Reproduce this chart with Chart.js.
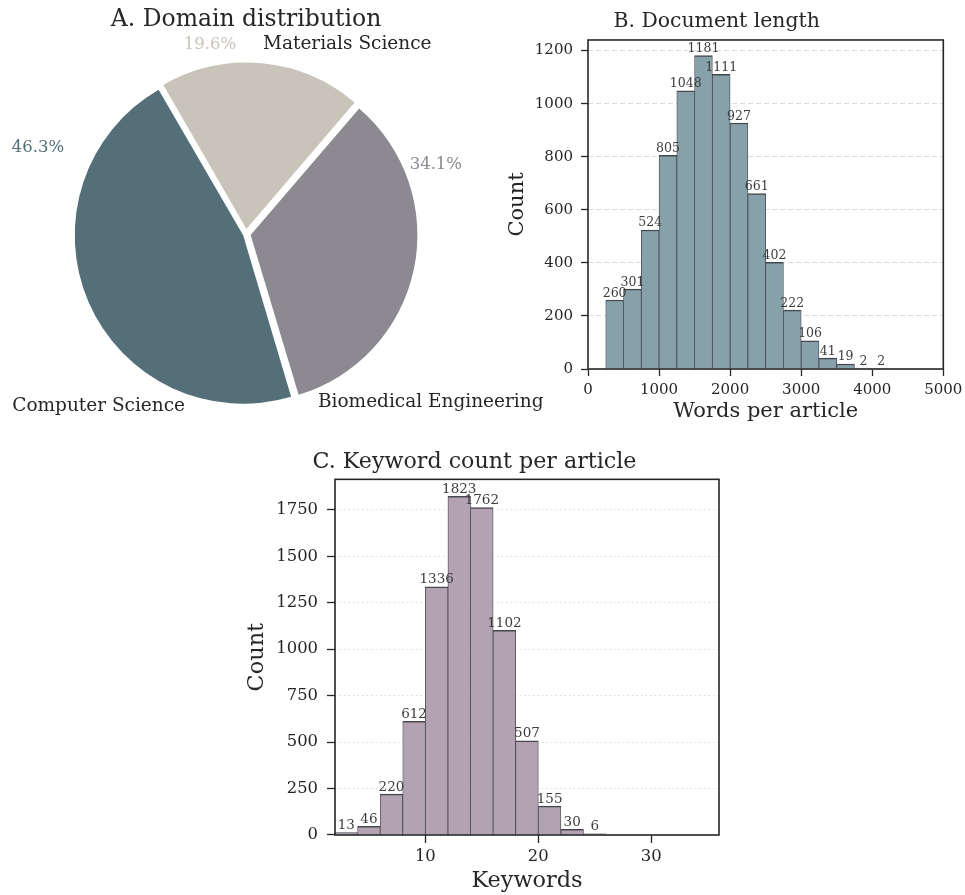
<!DOCTYPE html>
<html lang="en">
<head>
<meta charset="UTF-8" />
<title>Corpus overview</title>
<script src="https://cdn.jsdelivr.net/npm/chart.js@4"></script>
<style>
	html, body {
		margin: 0;
		padding: 0;
		background: #ffffff;
	}

	body {
		width: 965px;
		height: 895px;
		position: relative;
		overflow: hidden;
	}

	canvas {
		position: absolute;
	}

	#domainChart { left: 0; top: 0; }
	#lengthChart { left: 490px; top: 0; }
	#keywordChart { left: 230px; top: 435px; }
</style>
</head>
<body>
	<canvas id="domainChart" width="560" height="440"></canvas>
	<canvas id="lengthChart" width="475" height="430"></canvas>
	<canvas id="keywordChart" width="510" height="460"></canvas>

<script>
// A. domain shares (percent)
const domainNames = ['Computer Science', 'Biomedical Engineering', 'Materials Science'];
const domainShares = [46.3, 34.1, 19.6];

// B. words per article histogram
const lengthBinEdges = [250, 500, 750, 1000, 1250, 1500, 1750, 2000, 2250, 2500, 2750, 3000, 3250, 3500, 3750, 4000, 4250];
const lengthCounts = [260, 301, 524, 805, 1048, 1181, 1111, 927, 661, 402, 222, 106, 41, 19, 2, 2];
const lengthXTicks = [0, 1000, 2000, 3000, 4000, 5000];
const lengthYTicks = [0, 200, 400, 600, 800, 1000, 1200];

// C. keywords per article histogram
const keywordBinEdges = [2, 4, 6, 8, 10, 12, 14, 16, 18, 20, 22, 24, 26, 28, 30, 32, 34, 36];
const keywordCounts = [13, 46, 220, 612, 1336, 1823, 1762, 1102, 507, 155, 30, 6, 0, 0, 0, 0, 0];
const keywordXTicks = [10, 20, 30];
const keywordYTicks = [0, 250, 500, 750, 1000, 1250, 1500, 1750];

const domainColors = ['#546f78', '#8c8990', '#c9c4b9'];
const INK = '#262626';
const FONT = 'DejaVu Serif';

// where the pie texts sit: angle in degrees (counter-clockwise from east), distance in radii
const pieLabelLayout = [
	{ nameAngle: 250.5, nameDist: 1.10, nameAlign: 'right', pctAngle: 157.5, pctDist: 1.356 },
	{ nameAngle: 293.2, nameDist: 1.10, nameAlign: 'left', pctAngle: 20, pctDist: 1.217 },
	{ nameAngle: 84.9, nameDist: 1.15, nameAlign: 'left', pctAngle: 100.8, pctDist: 1.159 },
];
const EXPLODE_PX = 5.5;

Chart.defaults.font.family = FONT;
Chart.defaults.color = INK;

const toBins = (edges, counts) => counts.map((count, i) => ({
	x: (edges[i] + edges[i + 1]) / 2,
	y: count,
}));

const fixedTicks = (values) => (scale) => {
	scale.ticks = values.map((value) => ({ value }));
};

const plainNumber = (value) => String(value);

const frameBox = {
	id: 'frameBox',
	afterDraw(chart, args, opts) {
		const { ctx, chartArea: a } = chart;
		ctx.save();
		ctx.strokeStyle = opts.color;
		ctx.lineWidth = opts.width;
		ctx.strokeRect(a.left, a.top, a.right - a.left, a.bottom - a.top);
		ctx.restore();
	},
};

const barValueLabels = {
	id: 'barValueLabels',
	afterDraw(chart, args, opts) {
		const { ctx } = chart;
		const meta = chart.getDatasetMeta(0);
		const points = chart.data.datasets[0].data;
		ctx.save();
		ctx.font = `${opts.size}px "${FONT}"`;
		ctx.fillStyle = opts.color;
		ctx.textAlign = 'center';
		ctx.textBaseline = 'alphabetic';
		meta.data.forEach((bar, i) => {
			const value = points[i].y;
			if (!value) return;
			ctx.fillText(String(value), bar.x, bar.y - opts.gap);
		});
		ctx.restore();
	},
};

const polar = (cx, cy, dist, deg) => {
	const rad = deg * Math.PI / 180;
	return { x: cx + dist * Math.cos(rad), y: cy - dist * Math.sin(rad) };
};

const pieLabels = {
	id: 'pieLabels',
	afterDraw(chart) {
		const { ctx } = chart;
		const arc = chart.getDatasetMeta(0).data[0];
		const total = domainShares.reduce((s, v) => s + v, 0);
		ctx.save();
		ctx.textBaseline = 'middle';
		domainNames.forEach((name, i) => {
			const lay = pieLabelLayout[i];
			const p = polar(arc.x, arc.y, arc.outerRadius * lay.nameDist, lay.nameAngle);
			ctx.font = `18.5px "${FONT}"`;
			ctx.fillStyle = INK;
			ctx.textAlign = lay.nameAlign;
			ctx.fillText(name, p.x, p.y);

			const q = polar(arc.x, arc.y, arc.outerRadius * lay.pctDist, lay.pctAngle);
			ctx.font = `16.5px "${FONT}"`;
			ctx.fillStyle = domainColors[i];
			ctx.textAlign = 'center';
			ctx.fillText((domainShares[i] / total * 100).toFixed(1) + '%', q.x, q.y);
		});
		ctx.restore();
	},
};

// Chart.js draws clockwise, the source pie runs counter-clockwise from 120 degrees
const pieOrder = domainNames.map((_, i) => i).reverse();

new Chart(document.getElementById('domainChart'), {
	type: 'pie',
	data: {
		labels: pieOrder.map((i) => domainNames[i]),
		datasets: [{
			data: pieOrder.map((i) => domainShares[i]),
			backgroundColor: pieOrder.map((i) => domainColors[i]),
			borderWidth: 0,
			offset(ctx) {
				const values = ctx.dataset.data;
				const total = values.reduce((s, v) => s + v, 0);
				const circ = values[ctx.dataIndex] / total * Math.PI * 2;
				const fix = 1 - Math.sin(Math.min(Math.PI, circ));
				return EXPLODE_PX * 4 / (1 + fix);
			},
		}],
	},
	options: {
		responsive: false,
		animation: false,
		events: [],
		rotation: -30,
		radius: 166,
		layout: { padding: { left: 0, right: 68, top: 0, bottom: 6 } },
		plugins: {
			legend: { display: false },
			tooltip: { enabled: false },
			title: {
				display: true,
				text: 'A. Domain distribution',
				color: INK,
				font: { size: 23.5, weight: 'normal' },
				padding: { top: 6, bottom: 0 },
			},
		},
	},
	plugins: [pieLabels],
});

const histogram = (canvasId, cfg) => new Chart(document.getElementById(canvasId), {
	type: 'bar',
	data: {
		datasets: [{
			data: toBins(cfg.edges, cfg.counts),
			backgroundColor: cfg.fill,
			borderColor: '#46464e',
			borderWidth: { top: 1.5, left: 0.8, right: 0.8, bottom: 0 },
			borderSkipped: false,
			barPercentage: 1,
			categoryPercentage: 1,
		}],
	},
	options: {
		responsive: false,
		animation: false,
		events: [],
		layout: { padding: { left: 0, right: cfg.padRight, top: 0, bottom: 0 } },
		scales: {
			x: {
				type: 'linear',
				min: cfg.xMin,
				max: cfg.xMax,
				offset: false,
				afterBuildTicks: fixedTicks(cfg.xTicks),
				afterFit(scale) {
					scale.height = cfg.xAxisHeight;
					scale.paddingLeft = 0;
					scale.paddingRight = 0;
				},
				ticks: { color: INK, font: { size: cfg.tickSize }, padding: cfg.xTickPad, maxRotation: 0, callback: plainNumber },
				grid: { display: true, drawOnChartArea: false, offset: false, tickLength: cfg.tickLen, tickColor: INK, tickWidth: 1.3 },
				border: { display: false },
				title: { display: true, text: cfg.xTitle, color: INK, font: { size: cfg.labelSize }, padding: { top: 0, bottom: cfg.xTitlePad } },
			},
			y: {
				type: 'linear',
				min: 0,
				max: cfg.yMax,
				afterBuildTicks: fixedTicks(cfg.yTicks),
				afterFit(scale) {
					scale.width = cfg.yAxisWidth;
					scale.paddingTop = 0;
					scale.paddingBottom = 0;
				},
				ticks: { color: INK, font: { size: cfg.tickSize }, padding: cfg.yTickPad, callback: plainNumber },
				grid: { color: '#dcdcdc', lineWidth: 1, tickLength: cfg.tickLen, tickColor: INK, tickWidth: 1.3 },
				border: { display: false, dash: cfg.gridDash },
				title: { display: true, text: 'Count', color: INK, font: { size: cfg.labelSize }, padding: { top: cfg.yTitlePad, bottom: 0 } },
			},
		},
		plugins: {
			legend: { display: false },
			tooltip: { enabled: false },
			title: {
				display: true,
				text: cfg.title,
				color: INK,
				font: { size: cfg.titleSize, weight: 'normal' },
				padding: cfg.titlePad,
			},
			frameBox: { color: INK, width: 1.6 },
			barValueLabels: { size: cfg.valueSize, color: '#3d3d3d', gap: 3.5 },
		},
	},
	plugins: [frameBox, barValueLabels],
});

histogram('lengthChart', {
	edges: lengthBinEdges,
	counts: lengthCounts,
	fill: '#86a1aa',
	xMin: 0,
	xMax: 5000,
	yMax: 1240,
	xTicks: lengthXTicks,
	yTicks: lengthYTicks,
	title: 'B. Document length',
	xTitle: 'Words per article',
	titleSize: 20.4,
	titlePad: { top: 9.5, bottom: 6 },
	labelSize: 21,
	tickSize: 15,
	valueSize: 12.5,
	tickLen: 7,
	xTickPad: 5,
	yTickPad: 8,
	xTitlePad: 5.5,
	yTitlePad: 15,
	xAxisHeight: 61,
	yAxisWidth: 98,
	padRight: 21.7,
	gridDash: [5, 3],
});

histogram('keywordChart', {
	edges: keywordBinEdges,
	counts: keywordCounts,
	fill: '#b3a3b2',
	xMin: 2,
	xMax: 36,
	yMax: 1914,
	xTicks: keywordXTicks,
	yTicks: keywordYTicks,
	title: 'C. Keyword count per article',
	xTitle: 'Keywords',
	titleSize: 22.2,
	titlePad: { top: 14, bottom: 3.7 },
	labelSize: 22.4,
	tickSize: 16.4,
	valueSize: 13.5,
	tickLen: 8,
	xTickPad: 4,
	yTickPad: 9,
	xTitlePad: 0.5,
	yTitlePad: 13.6,
	xAxisHeight: 60,
	yAxisWidth: 105,
	padRight: 21,
	gridDash: [1.5, 3],
});
</script>
</body>
</html>
